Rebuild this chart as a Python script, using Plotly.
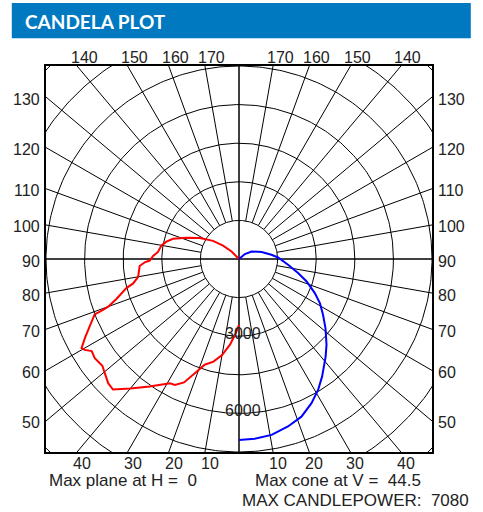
import numpy as np
import plotly.graph_objects as go

# ---------------- data ----------------
# Vertical angle V (deg, 0 = nadir) and candela, plane H = 0 (drawn on the left)
red_v = [0, 3, 6, 10, 14, 18, 20, 22, 24, 27, 29, 32, 35, 40, 44, 46.5, 49, 52,
         55.5, 58, 59.5, 60.5, 63, 66, 69, 69.5, 70, 72, 75.5, 77, 80, 84, 86,
         88, 89, 92, 95, 100, 103.5, 107, 112, 118, 125, 130, 135, 140]
red_cd = [2560, 2950, 3350, 3790, 4110, 4320, 4590, 4920, 5250, 5490, 5520, 5760,
          6050, 6570, 7050, 7010, 6890, 6740, 6800, 6750, 6960, 7030, 6710, 6340,
          6010, 5640, 5410, 5000, 4520, 4220, 3980, 3900, 3870, 3660, 3470, 3340,
          3160, 3060, 2900, 2680, 2200, 1730, 1230, 810, 410, 0]

# Cone at V = 44.5 (drawn on the right)
blue_v = [0, 5, 10.5, 16.3, 21.6, 26.7, 31.2, 35.3, 41.6, 45.6, 51.4, 56.4, 61.4,
          65.8, 71.6, 76.6, 83.3, 92.2, 97.4, 107, 121, 130, 135]
blue_cd = [7030, 7010, 6950, 6780, 6590, 6270, 5940, 5590, 5070, 4760, 4300, 3920,
           3580, 3230, 2770, 2360, 1920, 1520, 1270, 920, 570, 300, 0]

ring_cd = [1500, 3000, 4500, 6000, 7500, 9000, 10500]
spoke_deg = [10, 20, 30, 40, 50, 60, 70, 80, 100, 110, 120, 130, 140, 150, 160, 170]
ring_labels = [3000, 6000]
top_ticks = [140, 150, 160, 170]
side_ticks = [50, 60, 70, 80, 90, 100, 110, 120, 130]
bottom_ticks = [10, 20, 30, 40]
RMAX = 7500

title_text = "CANDELA PLOT"
note_plane = "Max plane at H =\u00a0\u00a00"
note_cone = "Max cone at V =\u00a0\u00a044.5"
note_max = "MAX CANDLEPOWER:\u00a0\u00a07080"

# ---------------- helpers ----------------
def to_xy(v_deg, cd, side):
    v = np.radians(np.asarray(v_deg, dtype=float))
    cd = np.asarray(cd, dtype=float)
    return side * cd * np.sin(v), -cd * np.cos(v)

L, T, S = 46.2, 66.2, 386.0   # plot-area pixel box (left, top, size)
def pxx(px):
    return (px - L) / S
def pxy(py):
    return (T + S - py) / S

fig = go.Figure()

# rings
th = np.linspace(0, 2 * np.pi, 361)
rx, ry = [], []
for r in ring_cd:
    rx += list(r * np.cos(th)) + [None]
    ry += list(r * np.sin(th)) + [None]
fig.add_trace(go.Scatter(x=rx, y=ry, mode="lines",
                         line=dict(color="black", width=1), hoverinfo="skip"))

# spokes (both sides) starting at the inner ring
sx, sy = [], []
for side in (-1, 1):
    for d in spoke_deg:
        x0, y0 = to_xy([d, d], [ring_cd[0], 12000], side)
        sx += list(x0) + [None]
        sy += list(y0) + [None]
fig.add_trace(go.Scatter(x=sx, y=sy, mode="lines",
                         line=dict(color="black", width=1), hoverinfo="skip"))

# main axes
fig.add_trace(go.Scatter(x=[-12000, 12000, None, 0, 0], y=[0, 0, None, -12000, 12000],
                         mode="lines", line=dict(color="black", width=1.5),
                         hoverinfo="skip"))

# curves
x, y = to_xy(red_v, red_cd, -1)
fig.add_trace(go.Scatter(x=x, y=y, mode="lines", line=dict(color="#ff0000", width=2)))
x, y = to_xy(blue_v, blue_cd, 1)
fig.add_trace(go.Scatter(x=x, y=y, mode="lines", line=dict(color="#0000ff", width=2)))

ann = []
lab_font = dict(family="Liberation Sans, Arial, sans-serif", size=16, color="#222222")
# top labels
for d in top_ticks:
    xe = RMAX * np.tan(np.radians(180 - d))
    for side in (-1, 1):
        ann.append(dict(x=side * xe, y=RMAX, xref="x", yref="y", text=str(d),
                        showarrow=False, xanchor="center", yanchor="middle",
                        xshift=7, yshift=9, font=lab_font))
# side labels
for d in side_ticks:
    ye = -RMAX * np.cos(np.radians(d)) / np.sin(np.radians(d))
    ann.append(dict(x=-RMAX, y=ye, xref="x", yref="y", text=str(d), showarrow=False,
                    xanchor="right", yanchor="middle", xshift=-4, yshift=-2, font=lab_font))
    ann.append(dict(x=RMAX, y=ye, xref="x", yref="y", text=str(d), showarrow=False,
                    xanchor="left", yanchor="middle", xshift=4, yshift=-2, font=lab_font))
# bottom labels
for d in bottom_ticks:
    xe = RMAX * np.tan(np.radians(d))
    for side in (-1, 1):
        ann.append(dict(x=side * xe, y=-RMAX, xref="x", yref="y", text=str(d),
                        showarrow=False, xanchor="center", yanchor="middle",
                        xshift=5, yshift=-11, font=lab_font))
# ring labels
for c in ring_labels:
    ann.append(dict(x=0, y=-c, xref="x", yref="y", text=str(c), showarrow=False,
                    xanchor="center", yanchor="middle", xshift=4, yshift=3,
                    font=lab_font))

note_font = dict(family="Liberation Sans, Arial, sans-serif", size=17, color="#222222")
ann.append(dict(x=pxx(47), y=pxy(481), xref="paper", yref="paper", text=note_plane,
                showarrow=False, xanchor="left", yanchor="middle", font=note_font))
ann.append(dict(x=pxx(338.5), y=pxy(481), xref="paper", yref="paper", text=note_cone,
                showarrow=False, xanchor="center", yanchor="middle", font=note_font))
ann.append(dict(x=pxx(240), y=pxy(500.5), xref="paper", yref="paper", text=note_max,
                showarrow=False, xanchor="left", yanchor="middle", font=note_font))
# header
ann.append(dict(x=pxx(23), y=pxy(21.5), xref="paper", yref="paper",
                text="<b>" + title_text + "</b>", showarrow=False,
                xanchor="left", yanchor="middle",
                font=dict(family="Lato, sans-serif", size=19, color="white")))

shapes = [dict(type="rect", xref="paper", yref="paper", x0=pxx(12), x1=pxx(471),
               y0=pxy(38.5), y1=pxy(3.3), fillcolor="#0079c1", line=dict(width=0),
               layer="below")]

ax = dict(range=[-RMAX, RMAX], showgrid=False, zeroline=False, showticklabels=False,
          ticks="", showline=True, mirror=True, linecolor="black", linewidth=2,
          fixedrange=True)
fig.update_layout(
    width=483, height=512, autosize=False,
    margin=dict(l=46, r=51, t=66, b=60, pad=0),
    paper_bgcolor="white", plot_bgcolor="white",
    showlegend=False,
    xaxis=ax, yaxis=dict(ax),
    annotations=ann, shapes=shapes,
)
fig.write_html("out.html", config={"displayModeBar": False},
               post_script="document.body.style.margin='0';")
